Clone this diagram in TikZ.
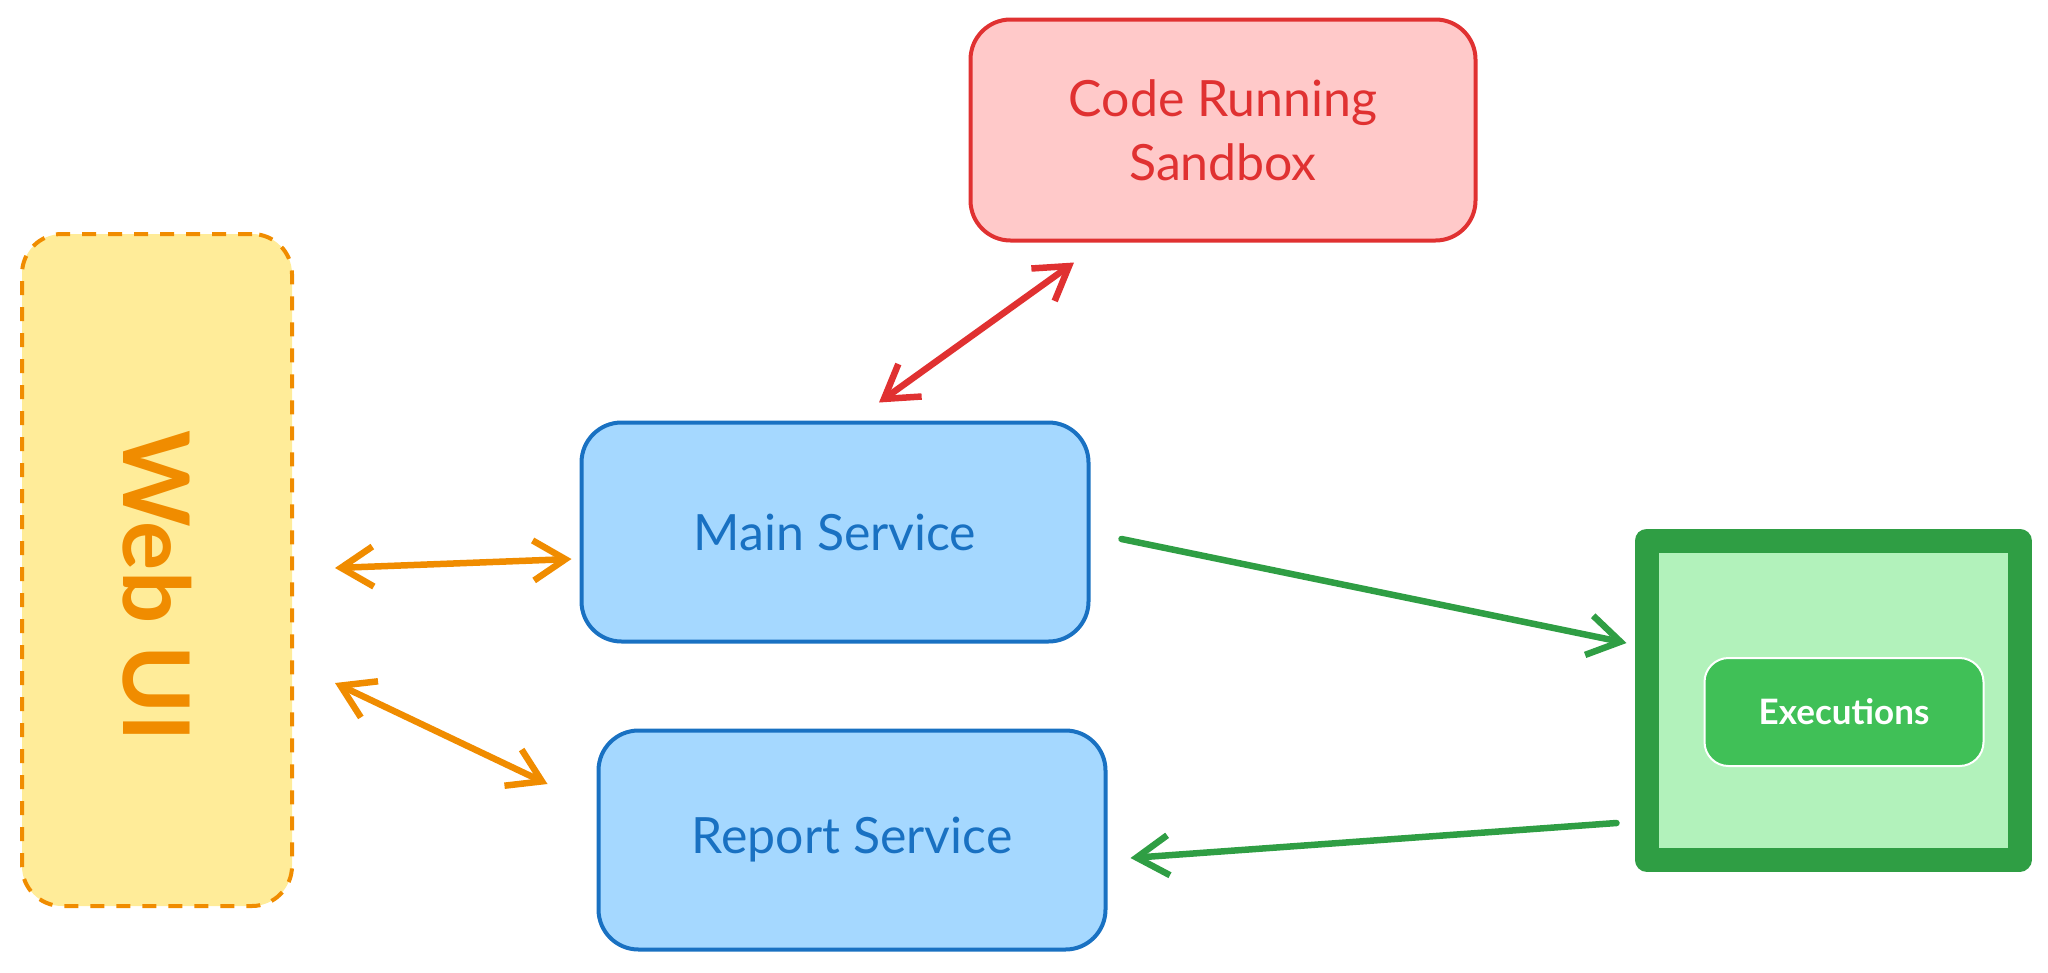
\documentclass[tikz,border=0pt]{standalone}
\usepackage{fontspec}
\setmainfont{Lato}
\usepackage{xcolor}
\usetikzlibrary{arrows.meta,shapes,backgrounds}

\definecolor{webfill}{HTML}{FFEC99}
\definecolor{webline}{HTML}{F08C00}
\definecolor{sandboxfill}{HTML}{FFC9C9}
\definecolor{sandboxline}{HTML}{E03131}
\definecolor{servicefill}{HTML}{A5D8FF}
\definecolor{serviceline}{HTML}{1971C2}
\definecolor{storefill}{HTML}{B2F2BB}
\definecolor{storeline}{HTML}{2F9E44}
\definecolor{itemfill}{HTML}{40C057}

\begin{document}
\begin{tikzpicture}[x=1pt,y=-1pt,>={Straight Barb[length=32pt,width=40pt]}]
		\tikzstyle{sketch_box}=[line width=4pt, rounded corners=40pt, outer sep=0pt, align=center, font=\fontsize{50}{64}\selectfont]
		\tikzstyle{service}=[sketch_box, draw=serviceline, fill=servicefill, text=serviceline, minimum width=507pt, minimum height=219pt]
		\tikzstyle{sandbox}=[sketch_box, draw=sandboxline, fill=sandboxfill, text=sandboxline, minimum width=505pt, minimum height=221pt]
		\tikzstyle{client}=[sketch_box, dash pattern=on 14pt off 12pt, draw=webline, fill=webfill, minimum width=270pt, minimum height=672pt]
		\tikzstyle{exec_store}=[line width=24pt, line join=round, draw=storeline, fill=storefill, outer sep=0pt, minimum width=373pt, minimum height=319pt]
		\tikzstyle{exec_item}=[line width=2pt, rounded corners=24pt, draw=white, fill=itemfill, text=white, minimum width=279pt, minimum height=108pt, font=\fontsize{35}{40}\selectfont\bfseries]
		\tikzstyle{node_text}=[draw=none, fill=none, text=webline, font=\fontsize{92}{100}\selectfont\bfseries]
		\tikzstyle{arrow}=[line width=6.5pt, line cap=round, line join=round]

		\useasboundingbox (0,0) rectangle (2048,972);

		\node [client] (web_ui) at (157,570) {};
		\node [node_text, rotate=-90] at ([yshift=-16pt]web_ui.center) {Web UI};

		\node [service] (main_service) at (835,532) {Main Service};
		\node [service] (report_service) at (852,840) {Report Service};
		\node [sandbox] (sandbox) at (1223,130) {Code Running\\Sandbox};

		\node [exec_store] (executions_db) at (1833,700) {};
		\node [exec_item] (executions) at (1844,712) {Executions};

	\path[<->] ([xshift=43pt,yshift=2pt]web_ui.east) edge [arrow, draw=webline] ([xshift=-10pt,yshift=-27pt]main_service.west);
	\path[<->] ([xshift=43pt,yshift=-113pt]web_ui.east) edge [arrow, draw=webline] ([xshift=-51pt,yshift=56pt]report_service.west);

	\path[<->] ([xshift=44pt,yshift=20pt]main_service.north) edge [arrow, draw=sandboxline] ([xshift=-149pt,yshift=-22pt]sandbox.south);

	\path[->] ([xshift=33pt,yshift=-7pt]main_service.east) edge [arrow, draw=storeline] ([xshift=-20pt,yshift=57pt]executions_db.west);
	\path[->] ([xshift=-30pt,yshift=-123pt]executions_db.west) edge [arrow, draw=storeline] ([xshift=25pt,yshift=-18pt]report_service.east);

	\end{tikzpicture}
\end{document}
